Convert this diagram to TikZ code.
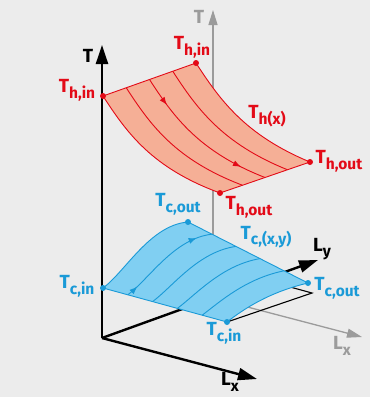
\documentclass[tikz,border=0pt]{standalone}
\usepackage{fontspec}
\setmainfont{Fira Sans}
\usetikzlibrary{arrows.meta,calc,decorations.markings}

\definecolor{bg}{HTML}{ECECEC}
\definecolor{hot}{HTML}{E30A17}
\definecolor{hotfill}{HTML}{F5AF96}
\definecolor{cold}{HTML}{1A9AD7}
\definecolor{coldfill}{HTML}{80CFF2}
\definecolor{axgray}{HTML}{9B9B9B}

\newcommand{\sub}[2]{#1\raisebox{-0.3em}{\fontsize{15.5}{16}\selectfont #2}}

\begin{document}
\begin{tikzpicture}[
  x=1pt, y=-1pt,
  font=\fontsize{19}{20}\selectfont\bfseries,
  ax/.style={line width=2.4pt,-{Triangle[length=19pt,width=12pt]}},
  gax/.style={axgray,line width=1.3pt,-{Triangle[length=15pt,width=9pt]}},
  hotlbl/.style={text=hot,inner sep=1pt},
  coldlbl/.style={text=cold,inner sep=1pt},
  hotline/.style={hot,line width=0.9pt},
  coldline/.style={cold,line width=0.9pt},
  dot/.style={circle,fill,inner sep=0pt,minimum size=6pt},
  flow/.style 2 args={postaction={decorate},decoration={markings,
     mark=at position #1 with {\arrow{Latex[length=8pt,width=6pt]}},
     mark=at position #2 with {\arrow{Latex[length=8pt,width=6pt]}}}},
]
  \useasboundingbox[fill=bg] (0,0) rectangle (370,397);

  % axes
  \coordinate (O) at (102,338);
  \coordinate (Ttip) at (102,45);
  \coordinate (Lxtip) at (257,379);
  \coordinate (Lytip) at (318,260);
  \coordinate (gO) at (213,298);
  \coordinate (gTtip) at (213,10);
  \coordinate (gLxtip) at (362,337);

  \draw[gax] (gO) -- (gTtip);
  \draw[gax] (gO) -- (gLxtip);
  \draw[ax] (O) -- (Lytip);
  \draw[ax] (O) -- (Lxtip);

  % cold surface
  \coordinate (cA) at (103,288);
  \coordinate (cB) at (227,322);
  \coordinate (cC) at (308,283);
  \coordinate (cD) at (188,222);
  \coordinate (cA1) at (125,272);
  \coordinate (cA2) at (150,225);
  \coordinate (cB1) at (245,308);
  \coordinate (cB2) at (270,292);
  \coordinate (cE) at (312,293);
  \coordinate (cF) at (188,259);

  \draw[line width=1.1pt] (cB) -- (cE) -- (cF);
  \fill[coldfill] (cA) .. controls (cA1) and (cA2) .. (cD) -- (cC)
    .. controls (cB2) and (cB1) .. (cB) -- cycle;
  \draw[coldline,flow={0.12}{0.85}] ($(cA)!0.2!(cB)$) .. controls ($(cA1)!0.2!(cB1)$)
    and ($(cA2)!0.2!(cB2)$) .. ($(cD)!0.2!(cC)$);
  \foreach \s in {0.4,0.6,0.8}
    \draw[coldline] ($(cA)!\s!(cB)$) .. controls ($(cA1)!\s!(cB1)$)
      and ($(cA2)!\s!(cB2)$) .. ($(cD)!\s!(cC)$);
  \draw[coldline] (cA) .. controls (cA1) and (cA2) .. (cD) -- (cC)
    .. controls (cB2) and (cB1) .. (cB) -- cycle;

  % hot surface
  \coordinate (hA) at (103,96);
  \coordinate (hB) at (196,63);
  \coordinate (hC) at (310,162);
  \coordinate (hD) at (220,193);
  \coordinate (hA1) at (127,133);
  \coordinate (hA2) at (152,168);
  \coordinate (hB1) at (220,100);
  \coordinate (hB2) at (245,135);

  \fill[hotfill] (hA) -- (hB) .. controls (hB1) and (hB2) .. (hC) -- (hD)
    .. controls (hA2) and (hA1) .. (hA) -- cycle;
  \draw[hotline,flow={0.2}{0.83}] ($(hA)!0.5!(hB)$) .. controls ($(hA1)!0.5!(hB1)$)
    and ($(hA2)!0.5!(hB2)$) .. ($(hD)!0.5!(hC)$);
  \foreach \s in {0.25,0.75}
    \draw[hotline] ($(hA)!\s!(hB)$) .. controls ($(hA1)!\s!(hB1)$)
      and ($(hA2)!\s!(hB2)$) .. ($(hD)!\s!(hC)$);
  \draw[hotline] (hA) -- (hB) .. controls (hB1) and (hB2) .. (hC) -- (hD)
    .. controls (hA2) and (hA1) .. (hA) -- cycle;

  \draw[ax] (O) -- (Ttip);

  % corner dots
  \foreach \p in {hA,hB,hC,hD}
    \node[dot,hot] at (\p) {};
  \foreach \p in {cA,cB,cC,cD}
    \node[dot,cold] at (\p) {};

  % labels
  \node (lT) at (88,56) {T};
  \node[text=axgray] (lgT) at (199,17) {T};
  \node (lLx) at (230,382) {\sub{L}{x}};
  \node (lLy) at (322,249) {\sub{L}{y}};
  \node[text=axgray] (lgLx) at (342,346) {\sub{L}{x}};

  \node[hotlbl] (lhin1) at (77,90) {\sub{T}{h,in}};
  \node[hotlbl] (lhin2) at (192,47) {\sub{T}{h,in}};
  \node[hotlbl] (lhx) at (267,116) {\sub{T}{h(x)}};
  \node[hotlbl] (lhout1) at (339,161) {\sub{T}{h,out}};
  \node[hotlbl] (lhout2) at (249,207) {\sub{T}{h,out}};

  \node[coldlbl] (lcout1) at (178,204) {\sub{T}{c,out}};
  \node[coldlbl] (lcxy) at (266,237) {\sub{T}{c,(x,y)}};
  \node[coldlbl] (lcin1) at (77,286) {\sub{T}{c,in}};
  \node[coldlbl] (lcout2) at (337,288) {\sub{T}{c,out}};
  \node[coldlbl] (lcin2) at (224,333) {\sub{T}{c,in}};
\end{tikzpicture}
\end{document}
